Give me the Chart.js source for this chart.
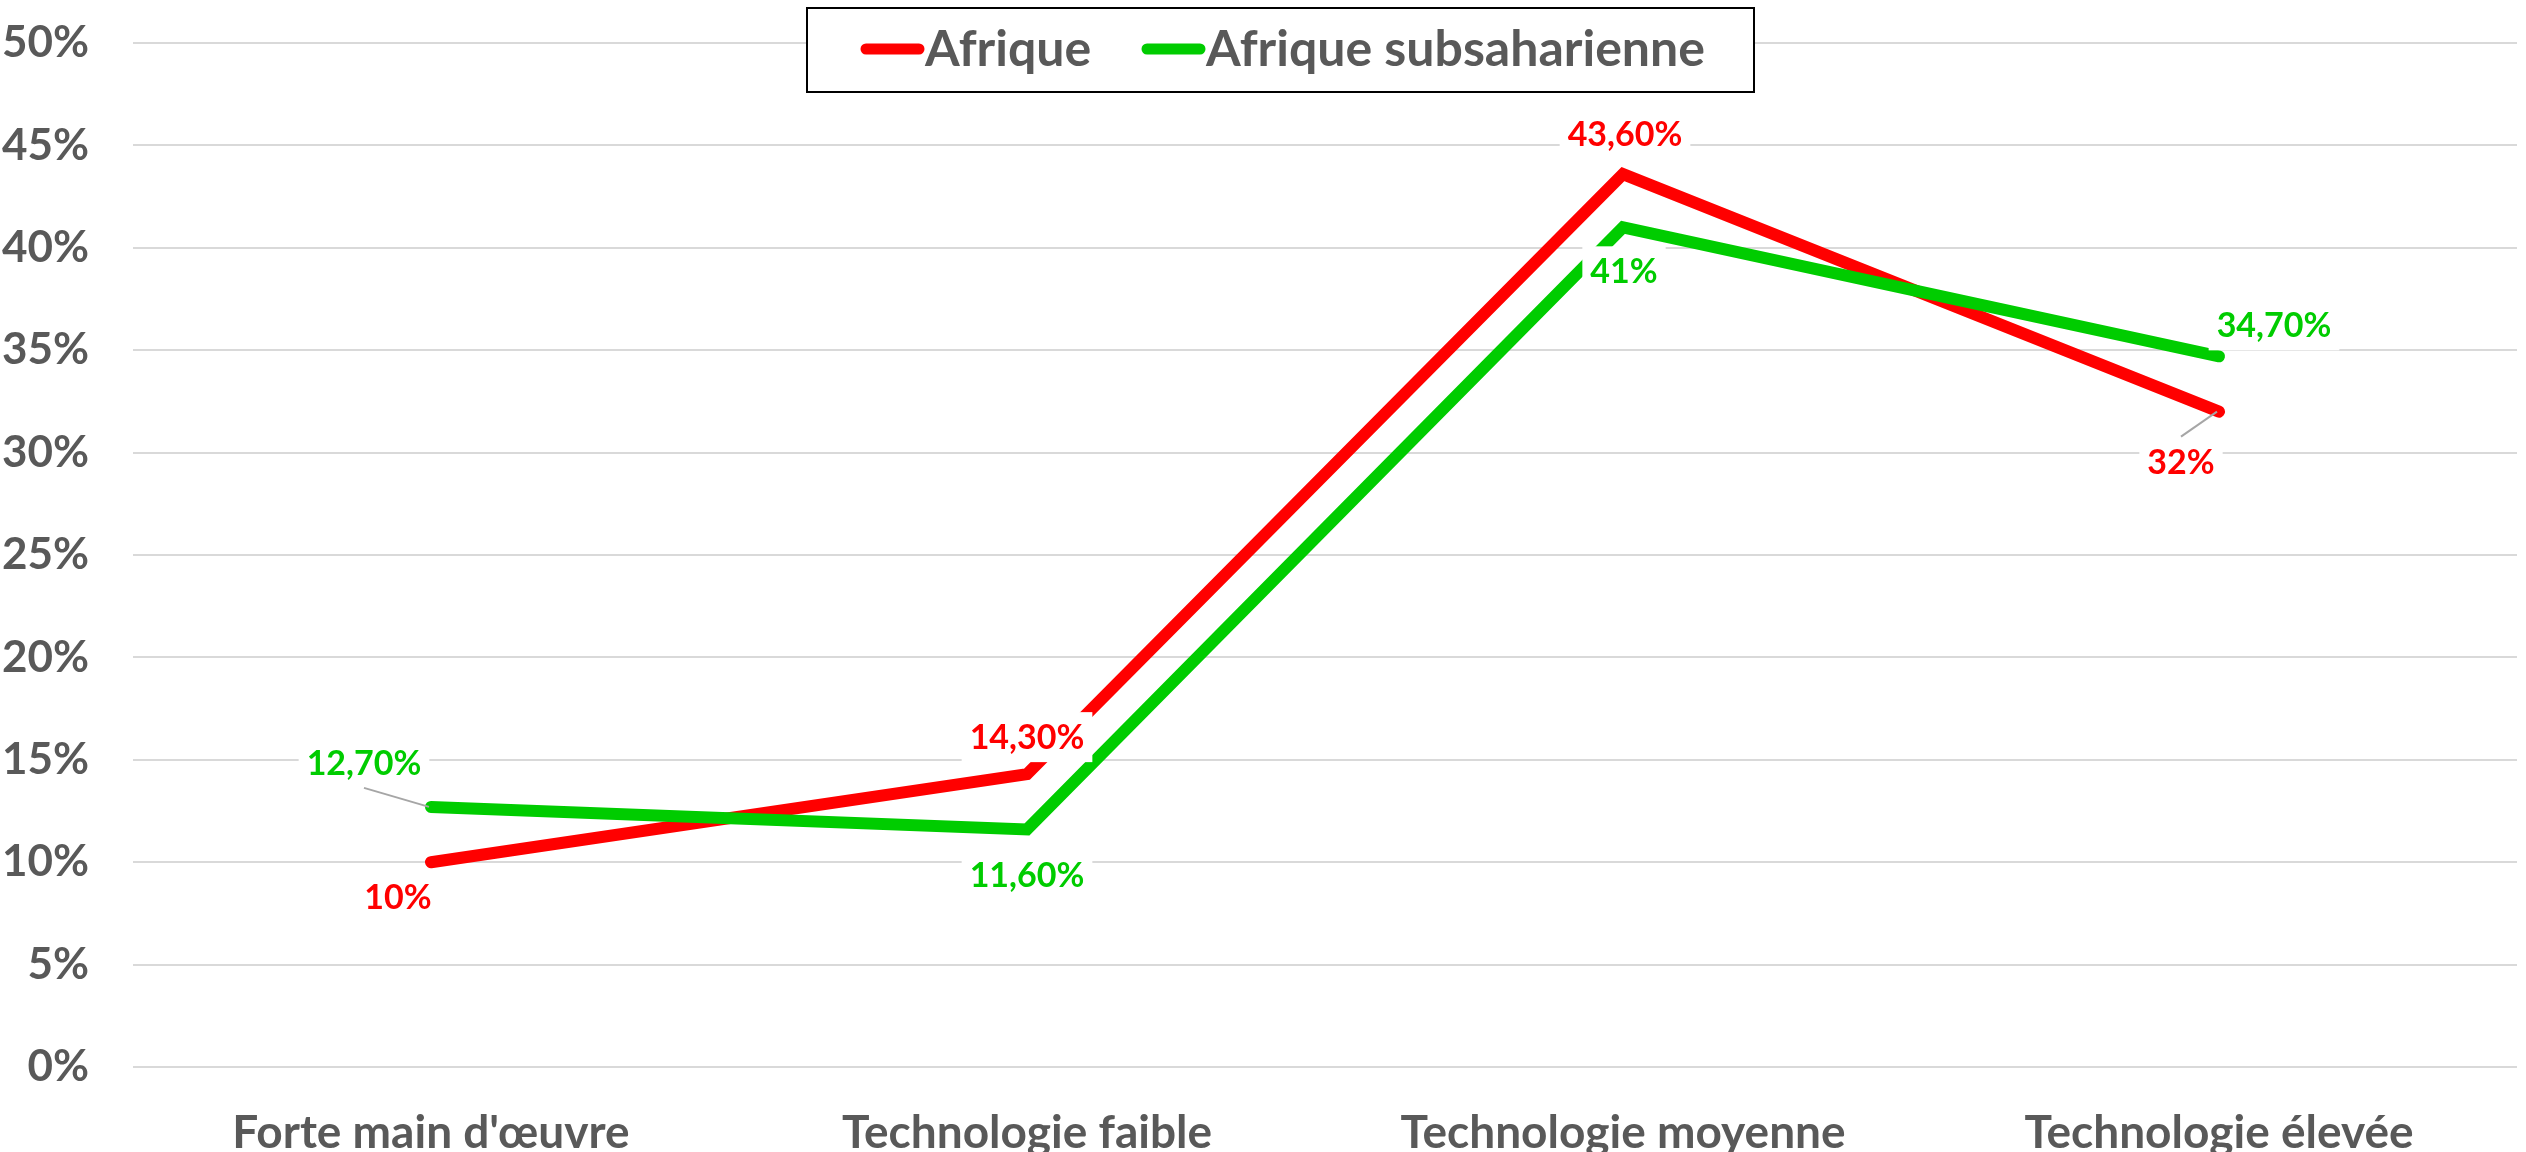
<!DOCTYPE html>
<html>
<head>
<meta charset="utf-8">
<script src="https://cdn.jsdelivr.net/npm/chart.js@4"></script>
<style>
  html, body { margin: 0; padding: 0; background: #ffffff; }
  canvas { display: block; }
</style>
</head>
<body>
<canvas id="c" width="2526" height="1152"></canvas>
<script>
// ---- data ----
const categories = ["Forte main d'œuvre", "Technologie faible", "Technologie moyenne", "Technologie élevée"];
const seriesNames = ["Afrique", "Afrique subsaharienne"];
const afrique = [10, 14.3, 43.6, 32];
const afriqueSubsaharienne = [12.7, 11.6, 41, 34.7];
const yTickValues = [0, 5, 10, 15, 20, 25, 30, 35, 40, 45, 50];

// ---- styles ----
const FONT = 'Lato';
const TEXT_GREY = '#595959';
const COLORS = ['#ff0000', '#00cc00'];
// label offsets (px) from point to label centre, per series / per point
const LABEL_OFFSETS = [
  [[-33, 35], [0, -37], [2, -40], [-38, 50]],
  [[-67, -44], [0, 46], [1, 44], [55, -31]]
];
// which labels get a leader line
const LEADERS = [[false, false, false, true], [true, false, false, false]];

function fmt(v) {
  return Number.isInteger(v) ? v + '%' : v.toFixed(2).replace('.', ',') + '%';
}

const dataLabelPlugin = {
  id: 'dataLabels',
  afterDatasetsDraw(chart) {
    const ctx = chart.ctx;
    ctx.save();
    ctx.font = 'bold 34px ' + FONT;
    ctx.textAlign = 'center';
    ctx.textBaseline = 'middle';
    chart.data.datasets.forEach((ds, di) => {
      const meta = chart.getDatasetMeta(di);
      meta.data.forEach((pt, i) => {
        const txt = fmt(ds.data[i]);
        const [dx, dy] = LABEL_OFFSETS[di][i];
        const cx = pt.x + dx, cy = pt.y + dy;
        const w = ctx.measureText(txt).width + 16;
        const h = 50;
        ctx.fillStyle = '#ffffff';
        ctx.fillRect(cx - w / 2, cy - h / 2, w, h);
        if (LEADERS[di][i]) {
          ctx.strokeStyle = '#a6a6a6';
          ctx.lineWidth = 2;
          ctx.beginPath();
          const sy = dy < 0 ? cy + h / 2 : cy - h / 2;
          ctx.moveTo(cx, sy);
          ctx.lineTo(pt.x - 2, pt.y);
          ctx.stroke();
        }
        ctx.fillStyle = COLORS[di];
        ctx.fillText(txt, cx, cy + 1);
      });
    });
    ctx.restore();
  }
};

const legendPlugin = {
  id: 'boxLegend',
  afterDraw(chart) {
    const ctx = chart.ctx;
    ctx.save();
    ctx.fillStyle = '#ffffff';
    ctx.fillRect(807, 8, 947, 84);
    ctx.strokeStyle = '#000000';
    ctx.lineWidth = 2;
    ctx.strokeRect(807, 8, 947, 84);
    ctx.font = 'bold 50px ' + FONT;
    ctx.textBaseline = 'middle';
    ctx.textAlign = 'left';
    const y = 49;
    const starts = [866, 1147];
    chart.data.datasets.forEach((ds, di) => {
      const x0 = starts[di];
      ctx.strokeStyle = ds.borderColor;
      ctx.lineWidth = 11;
      ctx.lineCap = 'round';
      ctx.beginPath();
      ctx.moveTo(x0, y);
      ctx.lineTo(x0 + 53, y);
      ctx.stroke();
      ctx.fillStyle = TEXT_GREY;
      ctx.fillText(ds.label, x0 + 59, y + 1);
    });
    ctx.restore();
  }
};

new Chart(document.getElementById('c'), {
  type: 'line',
  data: {
    labels: categories,
    datasets: [
      { label: seriesNames[0], data: afrique, borderColor: COLORS[0], backgroundColor: COLORS[0],
        borderWidth: 12, pointRadius: 0, tension: 0, borderCapStyle: 'round', borderJoinStyle: 'miter', order: 1 },
      { label: seriesNames[1], data: afriqueSubsaharienne, borderColor: COLORS[1], backgroundColor: COLORS[1],
        borderWidth: 12, pointRadius: 0, tension: 0, borderCapStyle: 'round', borderJoinStyle: 'miter', order: 0 }
    ]
  },
  options: {
    responsive: false,
    animation: false,
    events: [],
    layout: { padding: { top: 43, right: 9, left: 0, bottom: 0 } },
    plugins: { legend: { display: false }, tooltip: { enabled: false } },
    scales: {
      x: {
        offset: true,
        grid: { display: false },
        border: { display: false },
        ticks: { font: { family: FONT, size: 46, weight: 'bold' }, color: TEXT_GREY, padding: 31, maxRotation: 0 },
        afterFit(s) { s.height = 85; s.paddingLeft = 0; s.paddingRight = 0; }
      },
      y: {
        min: yTickValues[0],
        max: yTickValues[yTickValues.length - 1],
        afterBuildTicks(s) { s.ticks = yTickValues.map(v => ({ value: v })); },
        ticks: { font: { family: FONT, size: 44, weight: 'bold' }, color: TEXT_GREY, padding: 44,
                 callback: v => v + '%' },
        grid: { color: '#d9d9d9', lineWidth: 2, drawTicks: false },
        border: { display: false },
        afterFit(s) { s.width = 133; s.paddingTop = 0; s.paddingBottom = 0; }
      }
    }
  },
  plugins: [dataLabelPlugin, legendPlugin]
});
</script>
</body>
</html>
